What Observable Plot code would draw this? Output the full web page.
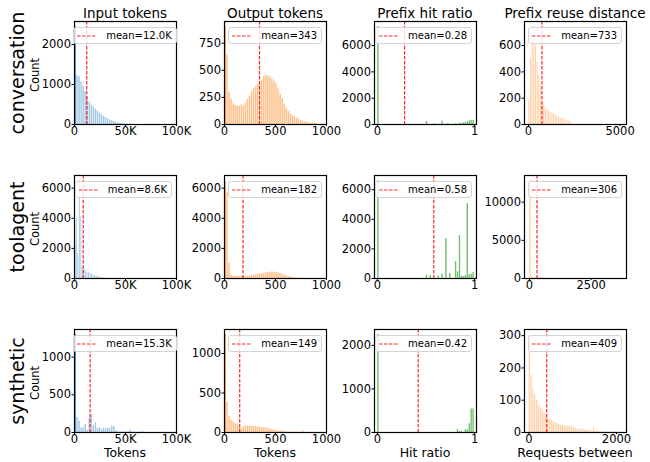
<!DOCTYPE html>
<html><head><meta charset="utf-8">
<script src="https://cdn.jsdelivr.net/npm/d3@7"></script>
<script src="https://cdn.jsdelivr.net/npm/@observablehq/plot@0.6"></script>
<style>
body{margin:0;background:#fff;}
#root{position:relative;width:650px;height:462px;font-family:"DejaVu Sans",sans-serif;overflow:hidden;color:#000;}
.abs{position:absolute;white-space:nowrap;}
.title{font-size:13.5px;transform:translate(-50%,-50%);}
.xlab{font-size:12.5px;transform:translate(-50%,-50%);}
.rowlab{font-size:19px;transform:translate(-50%,-50%) rotate(-90deg);}
.count{font-size:11.5px;transform:translate(-50%,-50%) rotate(-90deg);}
.legend{display:flex;align-items:center;height:17px;box-sizing:border-box;border:1px solid #d4d4d4;border-radius:3px;background:rgba(255,255,255,0.8);padding:0 4px 0 3px;font-size:10px;}
.legend svg{margin-right:9px;display:block;}
</style></head><body><div id="root"></div>
<script>
// ---------- data ----------
const rowNames = ["conversation", "toolagent", "synthetic"];
const colTitles = ["Input tokens", "Output tokens", "Prefix hit ratio", "Prefix reuse distance"];
const xAxisLabels = ["Tokens", "Tokens", "Hit ratio", "Requests between"];

const meanValues = [[12000, 343, 0.28, 733], [8600, 182, 0.58, 306], [15300, 149, 0.42, 409]];
const meanLabels = [["12.0K", "343", "0.28", "733"], ["8.6K", "182", "0.58", "306"], ["15.3K", "149", "0.42", "409"]];

// bin widths per column type
const inputBinConv = 2000, inputBinTool = 1500, inputBinSynth = 2000;
const outputBin = 20;
const hitBin = 0.02;
const reuseBinConv = 90, reuseBinTool = 75, reuseBinSynth = 42;

// histogram counts (consecutive bins starting at 0)
const convInput = [2450, 1220, 1200, 1060, 950, 820, 690, 560, 480, 430, 380, 330, 280, 240, 200, 170, 140, 110, 90, 70, 55, 40, 30, 20, 12, 8, 5, 3, 2, 1];
const toolInput = [2200, 4000, 1650, 6500, 4100, 750, 600, 500, 420, 380, 330, 280, 240, 200, 160, 130, 100, 80, 60, 45, 30, 20, 10];
const synthInput = [1300, 200, 150, 60, 60, 110, 30, 190, 240, 90, 130, 50, 65, 40, 55, 50, 60, 55, 85, 75, 25, 10, 5, 8, 5, 5, 10, 30, 8, 3, 2, 2, 3, 15];

const convOutput = [905, 640, 300, 230, 190, 175, 170, 165, 180, 170, 200, 230, 260, 300, 330, 350, 370, 390, 410, 440, 450, 450, 440, 420, 400, 380, 330, 280, 240, 190, 150, 120, 100, 80, 70, 60, 50, 40, 30, 25, 20, 15, 12, 10, 8, 5, 4, 3, 2, 1];
const toolOutput = [6400, 5750, 1000, 200, 170, 160, 150, 150, 160, 150, 150, 160, 180, 200, 220, 250, 270, 300, 320, 350, 380, 400, 420, 430, 420, 400, 370, 330, 280, 230, 180, 140, 100, 70, 50, 35, 25, 15, 10, 5, 3, 2, 1];
const synthOutput = [1240, 380, 200, 155, 134, 113, 100, 70, 50, 75, 80, 80, 80, 78, 75, 75, 70, 65, 62, 60, 55, 50, 45, 35, 28, 22, 20, 18, 15, 12, 8, 6, 5, 3, 2, 1, 1, 1, 20];

// hit ratio: [bin start, count]
const convHit = [[0, 7450], [0.5, 230], [0.58, 50], [0.66, 250], [0.72, 60], [0.8, 80], [0.84, 100], [0.86, 60], [0.88, 120], [0.9, 150], [0.92, 200], [0.94, 280], [0.96, 320], [0.98, 300]];
const toolHit = [[0, 6600], [0.5, 225], [0.54, 200], [0.62, 150], [0.66, 300], [0.7, 2700], [0.74, 350], [0.8, 1150], [0.82, 450], [0.84, 2900], [0.86, 150], [0.88, 150], [0.9, 200], [0.92, 5050], [0.94, 250], [0.96, 300], [0.98, 400]];
const synthHit = [[0, 2250], [0.82, 69], [0.84, 20], [0.86, 25], [0.9, 60], [0.92, 60], [0.94, 200], [0.96, 540], [0.98, 540]];

const convReuse = [185, 500, 700, 745, 600, 470, 380, 300, 165, 150, 130, 110, 100, 90, 82, 75, 70, 62, 55, 50, 45, 40, 35, 30, 25, 20];
const toolReuse = [12850, 150, 120, 100, 150, 130, 90, 60, 40, 25, 15, 10, 5, 3, 2, 1];
const synthReuse = [300, 177, 133, 115, 100, 85, 76, 70, 60, 55, 43, 40, 37, 35, 30, 28, 25, 22, 22, 20, 20, 18, 20, 15, 18, 12, 10, 12, 8, 10, 6, 8, 5, 6, 4, 15, 3, 4, 2, 2, 2, 1, 1, 1, 1, 1, 1, 0, 0, 1];

// axis ranges and tick values
const xDomains = [
  [[0, 100000], [0, 1000], [-0.03, 1.02], [-220, 5350]],
  [[0, 100000], [0, 1000], [-0.03, 1.02], [-200, 3930]],
  [[0, 100000], [0, 1000], [-0.03, 1.02], [-98, 2228]]
];
const xTickValues = [
  [[0, 50000, 100000], [0, 500, 1000], [0, 1], [0, 5000]],
  [[0, 50000, 100000], [0, 500, 1000], [0, 1], [0, 2500]],
  [[0, 50000, 100000], [0, 500, 1000], [0, 1], [0, 2000]]
];
const yMax = [[2575, 950, 7830, 783], [6840, 6840, 6960, 13490], [1366, 1304, 2364, 319]];
const yTickValues = [
  [[0, 1000, 2000], [0, 250, 500, 750], [0, 2000, 4000, 6000], [0, 200, 400, 600]],
  [[0, 2000, 4000, 6000], [0, 2000, 4000, 6000], [0, 2000, 4000, 6000], [0, 5000, 10000]],
  [[0, 500, 1000], [0, 500, 1000], [0, 1000, 2000], [0, 100, 200, 300]]
];

// ---------- build ----------
const seq = (counts, w) => counts.map((c, i) => ({x0: i * w, x1: (i + 1) * w, count: c, first: i === 0}));
const pairs = (arr, w) => arr.map(p => ({x0: p[0], x1: p[0] + w, count: p[1], first: p[0] === 0}));

const panelData = [
  [seq(convInput, inputBinConv), seq(convOutput, outputBin), pairs(convHit, hitBin), seq(convReuse, reuseBinConv)],
  [seq(toolInput, inputBinTool), seq(toolOutput, outputBin), pairs(toolHit, hitBin), seq(toolReuse, reuseBinTool)],
  [seq(synthInput, inputBinSynth), seq(synthOutput, outputBin), pairs(synthHit, hitBin), seq(synthReuse, reuseBinSynth)]
];

const colColors = [
  {light: "#a5c8e2", dark: "#2f7bb6"},
  {light: "#ffbf86", dark: "#ff8f30"},
  {light: "#6cbc6c", dark: "#6cbc6c"},
  {light: "#ffd0a8", dark: "#ffd0a8"}
];

const colLeft = [74, 224, 374, 524], rowTop = [21, 175, 329];
const FW = 102, FH = 103;
const mL = 46, mR = 16, mT = 4, mB = 20;

const root = document.getElementById("root");
const fmtX = [d => d === 0 ? "0" : (d / 1000) + "K", d => String(d), d => String(d), d => String(d)];

for (let r = 0; r < 3; r++) {
  for (let c = 0; c < 4; c++) {
    const col = colColors[c];
    const chart = Plot.plot({
      width: FW + mL + mR, height: FH + mT + mB,
      marginLeft: mL, marginRight: mR, marginTop: mT, marginBottom: mB,
      style: {fontFamily: "DejaVu Sans", fontSize: "11.5px", overflow: "visible", background: "transparent", color: "#000"},
      x: {domain: xDomains[r][c]},
      y: {domain: [0, yMax[r][c]]},
      marks: [
        Plot.rectY(panelData[r][c], {x1: "x0", x2: "x1", y: "count", fill: d => d.first ? col.dark : col.light, insetLeft: 0.3, insetRight: 0.3, clip: true}),
        Plot.ruleX([meanValues[r][c]], {stroke: "red", strokeOpacity: 0.85, strokeWidth: 1.2, strokeDasharray: "3.5,1.5"}),
        Plot.axisX(xTickValues[r][c], {tickSize: 2, tickPadding: 0, tickFormat: fmtX[c], label: null, fontSize: 11.5}),
        Plot.axisY(yTickValues[r][c], {tickSize: 2.5, tickPadding: 1, tickFormat: d => String(d), label: null, fontSize: 11.5}),
        Plot.frame({stroke: "black", strokeWidth: 1.2})
      ]
    });
    chart.classList.add("abs");
    chart.style.left = (colLeft[c] - mL) + "px";
    chart.style.top = (rowTop[r] - mT) + "px";
    root.appendChild(chart);

    // legend
    const lg = document.createElement("div");
    lg.className = "abs legend";
    lg.innerHTML = '<svg width="20" height="4"><line x1="0" y1="2" x2="20" y2="2" stroke="red" stroke-opacity="0.85" stroke-width="1.2" stroke-dasharray="3.5,1.5"/></svg><span>mean=' + meanLabels[r][c] + '</span>';
    root.appendChild(lg);
    const w = lg.getBoundingClientRect().width;
    let left = colLeft[c] + FW - 4 - w;
    if (left < colLeft[c] - 1) left = colLeft[c] + (FW - w) / 2;
    lg.style.left = left + "px";
    lg.style.top = (rowTop[r] + 6) + "px";
  }
}

// titles
colTitles.forEach((t, c) => {
  const d = document.createElement("div");
  d.className = "abs title"; d.textContent = t;
  d.style.left = (colLeft[c] + FW / 2) + "px"; d.style.top = "13px";
  root.appendChild(d);
});
// x labels
xAxisLabels.forEach((t, c) => {
  const d = document.createElement("div");
  d.className = "abs xlab"; d.textContent = t;
  d.style.left = (colLeft[c] + FW / 2) + "px"; d.style.top = "452px";
  root.appendChild(d);
});
// row labels and Count
rowNames.forEach((t, r) => {
  const cy = rowTop[r] + FH / 2;
  const d = document.createElement("div");
  d.className = "abs rowlab"; d.textContent = t;
  d.style.left = "17px"; d.style.top = cy + "px";
  root.appendChild(d);
  const e = document.createElement("div");
  e.className = "abs count"; e.textContent = "Count";
  e.style.left = "35px"; e.style.top = (cy + 2) + "px";
  root.appendChild(e);
});
</script></body></html>
